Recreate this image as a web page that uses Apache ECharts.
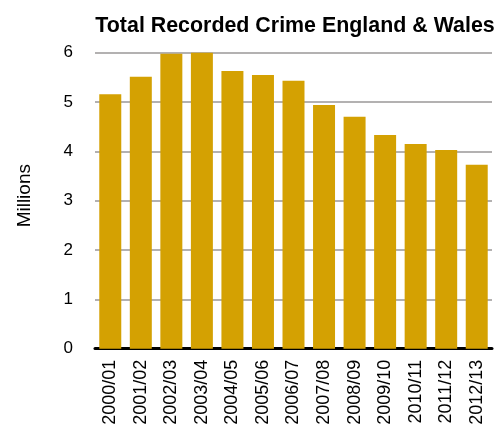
<!DOCTYPE html>
<html><head><meta charset="utf-8">
<script src="https://cdn.jsdelivr.net/npm/echarts@6/dist/echarts.min.js"></script>
<style>html,body{margin:0;padding:0;background:#fff}#c{width:500px;height:426px}</style>
</head><body><div id="c"></div>
<script>
var categories = ["2000/01","2001/02","2002/03","2003/04","2004/05","2005/06","2006/07","2007/08","2008/09","2009/10","2010/11","2011/12","2012/13"];
var values = [5.16,5.51,5.98,6.02,5.63,5.55,5.43,4.94,4.70,4.33,4.15,4.03,3.73];
var chart = echarts.init(document.getElementById('c'));
chart.setOption({
  animation:false,
  title:{text:'Total Recorded Crime England & Wales', left:290, textAlign:'center', top:11,
    textStyle:{fontFamily:'Liberation Sans, Arial, sans-serif', fontWeight:'bold', fontSize:21.4, color:'#000'}},
  grid:{left:95, right:8, top:52.7, bottom:77.3, containLabel:false, outerBoundsMode:'none'},
  xAxis:{type:'category', data:categories,
    axisLine:{lineStyle:{color:'#000', width:3}}, axisTick:{show:false},
    axisLabel:{rotate:90, color:'#000', fontSize:18, fontFamily:'Liberation Sans, Arial, sans-serif', margin:11, interval:0}},
  yAxis:{type:'value', min:0, max:6, interval:1, name:'Millions', nameLocation:'middle', nameGap:61, nameRotate:90,
    nameTextStyle:{color:'#000', fontSize:19, fontFamily:'Liberation Sans, Arial, sans-serif', padding:[0,0,0,10]},
    axisLine:{show:false}, axisTick:{show:false},
    axisLabel:{color:'#000', fontSize:17, fontFamily:'Liberation Sans, Arial, sans-serif', margin:22},
    splitLine:{lineStyle:{color:'#b3b1b1', width:2}}},
  series:[{type:'bar', data:values, barCategoryGap:'28%', itemStyle:{color:'#d4a102'}}]
});
</script></body></html>
